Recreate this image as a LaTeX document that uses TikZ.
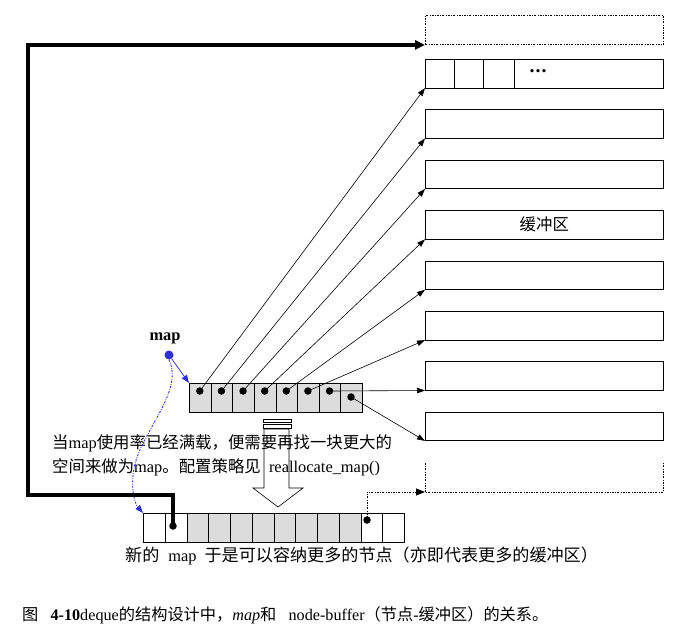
\documentclass[tikz,border=0pt]{standalone}
\usepackage{fontspec}
\setmainfont{Liberation Serif}
\newfontfamily\cjk{Noto Sans CJK SC}
\usetikzlibrary{arrows.meta}
\definecolor{mapblue}{RGB}{45,45,225}
\definecolor{cellgray}{RGB}{220,220,220}
\tikzset{
  buf/.style={draw, line width=0.6pt, minimum width=238pt, minimum height=28.5pt, anchor=north west, inner sep=0pt},
  mcell/.style={draw, line width=0.6pt, fill=cellgray, minimum width=21.625pt, minimum height=29pt, anchor=north west, inner sep=0pt},
  ncell/.style={draw, line width=0.6pt, minimum width=21.75pt, minimum height=28.5pt, anchor=north west, inner sep=0pt},
  bdot/.style={circle, fill=black, inner sep=0pt, minimum size=7.5pt},
  ptr/.style={line width=0.6pt, -{Triangle[length=8pt,width=5.5pt]}},
  dashdot/.style={line width=0.9pt, dash pattern=on 2pt off 1.3pt on 0.8pt off 1.3pt},
  bigline/.style={line width=3.5pt, -{Triangle[length=10pt,width=9pt]}},
  txt/.style={inner sep=0pt, font=\fontsize{16.4}{19}\selectfont},
}
\begin{document}
\begin{tikzpicture}[x=1pt,y=-1pt]
\useasboundingbox (0,0) rectangle (700,642);

% top dotted buffer
\node[buf, dashdot, minimum height=29pt] (topbox) at (425,15) {};

% buffers
\foreach \i in {1,...,8}
  \node[buf] (b\i) at (425,{59+(\i-1)*50.4}) {};
\foreach \s in {29,58,89}
  \draw[line width=0.6pt] ([xshift=\s pt]b1.north west) -- ([xshift=\s pt]b1.south west);
\node[inner sep=0pt, font=\fontsize{20}{20}\selectfont\bfseries] (dots) at (538,71) {.\kern1pt.\kern1pt.};
\node[txt] (buflabel) at (b4.center) {\cjk 缓冲区};

% bottom dotted buffer
\coordinate (botLt) at (425,463);
\coordinate (botL)  at (425,492);
\coordinate (botR)  at (663,492);
\coordinate (botRt) at (663,463);
\draw[dashdot] (botLt) -- (botL) -- (botR) -- (botRt);

% old map
\foreach \i in {0,...,7}
  \node[mcell] (m\i) at ({189+\i*21.625},383) {};
\foreach \i in {0,...,6}
  \node[bdot] (d\i) at ({199.8+\i*21.625},391) {};
\node[bdot] (d7) at (351,397) {};
\foreach \i/\j in {0/1,1/2,2/3,3/4,4/5,5/6,6/7,7/8}
  \draw[ptr] (d\i.center) -- (b\j.south west);

% map label and blue pointer
\node[inner sep=0pt, font=\fontsize{16.4}{19}\selectfont\bfseries] (maplabel) at (165,338) {map};
\node[circle, fill=mapblue, inner sep=0pt, minimum size=9pt] (bluedot) at (169,355) {};

% hollow arrow
\draw[line width=0.6pt] (263,419) rectangle (291,422);
\draw[line width=0.6pt] (263,424) rectangle (291,428);
\draw[line width=0.6pt] (264,429) -- (264,488) -- (253,488) -- (278,507) -- (303,488) -- (289,488) -- (289,429) -- cycle;

% explanatory text
\node[txt, anchor=west] (line1) at (52,443) {{\cjk 当}map{\cjk 使用率已经满载，便需要再找一块更大的}};
\node[txt, anchor=west] (line2) at (52,467) {{\cjk 空间来做为}map{\cjk 。配置策略见}\ \ reallocate\_map()};

% new map
\foreach \i in {0,1,10,11}
  \node[ncell] (n\i) at ({143+\i*21.75},513) {};
\foreach \i in {2,...,9}
  \node[ncell, fill=cellgray] (n\i) at ({143+\i*21.75},513) {};
\node[bdot] (nA) at (173,526) {};
\node[bdot] (nB) at (367,520) {};

% blue pointers
\draw[mapblue, line width=0.8pt, -{Triangle[length=8pt,width=6pt]}] (bluedot) -- (m0.north west);
\draw[mapblue, dashdot, -{Triangle[length=8pt,width=6pt]}] (bluedot.south)
  .. controls (184,392) and (142,430) .. (134,468)
  .. controls (130,492) and (136,505) .. (n0.north west);

% thick black pointer
\coordinate (tA) at (173,495);
\coordinate (tB) at (28,495);
\draw[bigline] (nA.center) -- (tA) -- (tB) |- (topbox.south west);

% dotted pointer
\draw[dashdot, -{Triangle[length=9pt,width=7pt]}] (nB.center) |- (botL);

\node[txt, anchor=west] (newmap) at (125,556) {{\cjk\fontsize{17.1}{19}\selectfont 新的}\hspace{9pt}map\hspace{8pt}{\cjk\fontsize{17.1}{19}\selectfont 于是可以容纳更多的节点（亦即代表更多的缓冲区）}};

% caption
\node[inner sep=0pt, anchor=west, font=\fontsize{16.2}{18}\selectfont] (caption) at (22,615)
  {{\cjk 图}\ \ \ \textbf{4-10}deque{\cjk 的结构设计中，}\textit{map}{\cjk 和}\ \ \ node-buffer{\cjk （节点}-{\cjk 缓冲区）的关系。}};
\end{tikzpicture}
\end{document}
